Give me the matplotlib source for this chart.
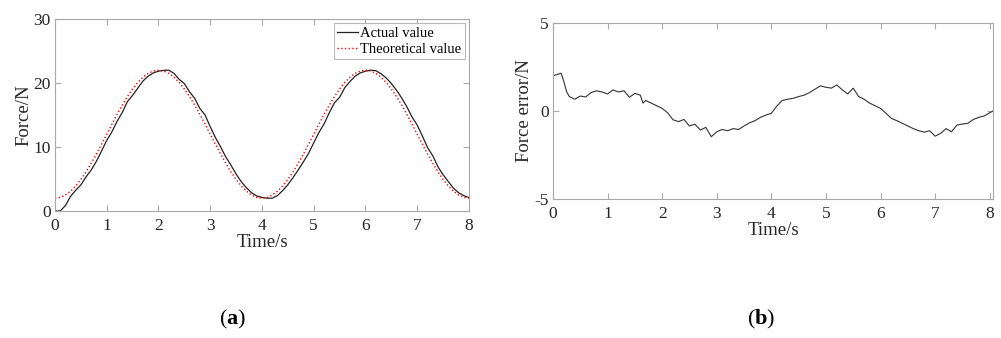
import matplotlib.pyplot as plt

plt.rcParams['font.family'] = ['Liberation Serif', 'DejaVu Serif']
plt.rcParams['axes.unicode_minus'] = False
plt.rcParams['mathtext.fontset'] = 'custom'
plt.rcParams['mathtext.bf'] = 'Liberation Serif:bold'

# time base (s), 0.1 s steps
time = [i / 10 for i in range(81)]

# theoretical force (N)
theo_half = [2.00, 2.12, 2.49, 3.09, 3.91, 4.93, 6.12, 7.46, 8.91, 10.44,
             12.00, 13.56, 15.09, 16.54, 17.88, 19.07, 20.09, 20.91, 21.51, 21.88,
             22.00, 21.88, 21.51, 20.91, 20.09, 19.07, 17.88, 16.54, 15.09, 13.56,
             12.00, 10.44, 8.91, 7.46, 6.12, 4.93, 3.91, 3.09, 2.49, 2.12]
theoretical = theo_half + theo_half + [2.00]

# actual force (N)
actual = [0.00, 0.00, 0.82, 2.27, 3.24, 4.08, 5.32, 6.41, 7.76, 9.36,
          11.03, 12.36, 14.01, 15.39, 17.10, 18.07, 19.19, 20.31, 21.06, 21.58,
          21.85, 21.98, 22.01, 21.51, 20.57, 19.92, 18.63, 17.62, 16.02, 15.02,
          13.18, 11.49, 10.03, 8.46, 7.17, 5.78, 4.58, 3.64, 2.85, 2.35,
          2.13, 2.00, 2.00, 2.42, 3.19, 4.11, 5.22, 6.41, 7.67, 9.01,
          10.65, 12.26, 13.61, 15.34, 16.91, 17.77, 19.27, 20.24, 21.06, 21.58,
          21.85, 22.01, 21.93, 21.46, 20.79, 19.92, 18.88, 17.66, 16.29, 14.68,
          13.43, 11.71, 9.91, 8.64, 6.92, 5.67, 4.61, 3.57, 2.85, 2.40, 2.10]

# force error (N)
err_time = [0.0, 0.1, 0.15, 0.2, 0.25, 0.3, 0.4, 0.5, 0.6, 0.7, 0.8, 0.9,
            1.0, 1.1, 1.2, 1.3, 1.4, 1.5, 1.6, 1.65, 1.7, 1.8, 1.9,
            2.0, 2.1, 2.2, 2.3, 2.4, 2.5, 2.6, 2.7, 2.8, 2.9,
            3.0, 3.1, 3.2, 3.3, 3.4, 3.5, 3.6, 3.7, 3.8, 3.9,
            4.0, 4.1, 4.2, 4.3, 4.4, 4.5, 4.6, 4.7, 4.8, 4.9,
            5.0, 5.1, 5.2, 5.3, 5.4, 5.5, 5.6, 5.7, 5.8, 5.9,
            6.0, 6.1, 6.2, 6.3, 6.4, 6.5, 6.6, 6.7, 6.8, 6.9,
            7.0, 7.1, 7.2, 7.3, 7.4, 7.5, 7.6, 7.7, 7.8, 7.9, 8.0, 8.06]
error = [2.00, 2.10, 2.15, 1.67, 1.10, 0.82, 0.67, 0.85, 0.80, 1.05, 1.15, 1.08,
         0.97, 1.20, 1.08, 1.15, 0.78, 1.00, 0.90, 0.45, 0.60, 0.45, 0.30,
         0.15, -0.10, -0.50, -0.60, -0.48, -0.85, -0.75, -1.08, -0.93, -1.46,
         -1.18, -1.05, -1.12, -1.00, -1.05, -0.85, -0.67, -0.55, -0.36, -0.23,
         -0.13, 0.28, 0.60, 0.67, 0.72, 0.82, 0.90, 1.05, 1.24, 1.43,
         1.35, 1.30, 1.48, 1.20, 0.97, 1.30, 0.82, 0.67, 0.45, 0.30,
         0.15, -0.13, -0.42, -0.55, -0.70, -0.85, -1.00, -1.12, -1.20, -1.12,
         -1.43, -1.27, -1.00, -1.18, -0.80, -0.74, -0.70, -0.48, -0.36, -0.28, -0.10, 0.00]

spine_col = '#a8a8a8'
txt_col = '#262626'


def style(ax):
    for s in ax.spines.values():
        s.set_color(spine_col)
        s.set_linewidth(0.8)
    ax.tick_params(direction='in', top=True, right=True, length=4,
                   color=spine_col, labelcolor=txt_col, labelsize=12.5)
    ax.tick_params(axis='x', pad=5)
    ax.tick_params(axis='y', pad=3)


fig = plt.figure(figsize=(10.01, 3.38), dpi=100)

# (a)
ax1 = fig.add_axes([0.0549, 0.3757, 0.4136, 0.568])
ax1.plot(time, actual, color='#222222', lw=0.9, label='Actual value')
ax1.plot(time, theoretical, color='red', ls=':', lw=1.0, label='Theoretical value')
ax1.set_xlim(0, 8)
ax1.set_ylim(0, 30)
ax1.set_xticks(range(9))
ax1.set_yticks([0, 10, 20, 30])
ax1.set_xlabel('Time/s', fontsize=13.5, color=txt_col, labelpad=0)
ax1.set_ylabel('Force/N', fontsize=13.5, color=txt_col, labelpad=1)
style(ax1)
leg = ax1.legend(loc='upper right', fontsize=10.5, frameon=True, fancybox=False,
                 handlelength=1.4, handletextpad=0.15, borderpad=0.25,
                 labelspacing=0.15, borderaxespad=0.3)
leg.get_frame().set_edgecolor(spine_col)
leg.get_frame().set_linewidth(0.8)

# (b)
ax2 = fig.add_axes([0.5524, 0.4112, 0.4396, 0.5207])
ax2.plot(err_time, error, color='#333333', lw=0.8)
ax2.set_xlim(0, 8.06)
ax2.set_ylim(-5, 5)
ax2.set_xticks(range(9))
ax2.set_yticks([-5, 0, 5])
ax2.set_xlabel('Time/s', fontsize=13.5, color=txt_col, labelpad=0)
ax2.set_ylabel('Force error/N', fontsize=13.5, color=txt_col, labelpad=1)
style(ax2)

fig.text(0.2318, 0.054, r'($\mathbf{a}$)', ha='center', va='center', fontsize=16)
fig.text(0.7602, 0.054, r'($\mathbf{b}$)', ha='center', va='center', fontsize=16)

fig.savefig('out.png', dpi=100)
